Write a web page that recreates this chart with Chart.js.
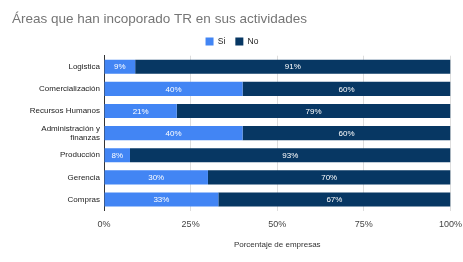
<!DOCTYPE html>
<html>
<head>
<meta charset="utf-8">
<script src="https://cdn.jsdelivr.net/npm/chart.js@4"></script>
<style>
  html, body { margin: 0; padding: 0; background: #fff; }
  #wrap { width: 463px; height: 262px; }
</style>
</head>
<body>
<div id="wrap"><canvas id="chart" width="463" height="262"></canvas></div>
<script>
// ─── Data ────────────────────────────────────────────────────────
const categories = [
  "Logistica",
  "Comercialización",
  "Recursos Humanos",
  ["Administración y", "finanzas"],
  "Producción",
  "Gerencia",
  "Compras",
];
const siValues = [9, 40, 21, 40, 7.5, 30, 33];
const noValues = [91, 60, 79, 60, 92.5, 70, 67];
const seriesNames = ["Si", "No"];
const seriesColors = ["#4285F4", "#073763"];

const FONT = "'Liberation Sans', Arial, sans-serif";

// ─── Labels inside segments ──────────────────────────────────────
const segmentLabels = {
  id: "segmentLabels",
  afterDatasetsDraw(chart) {
    const ctx = chart.ctx;
    ctx.save();
    ctx.fillStyle = "#ffffff";
    ctx.font = "8px " + FONT;
    ctx.textAlign = "center";
    ctx.textBaseline = "middle";
    chart.data.datasets.forEach((ds, i) => {
      chart.getDatasetMeta(i).data.forEach((bar, j) => {
        const cx = (bar.x + bar.base) / 2;
        ctx.fillText(Math.round(ds.data[j]) + "%", cx, bar.y + 0.5);
      });
    });
    ctx.restore();
  },
};

// ─── Chart ───────────────────────────────────────────────────────
new Chart(document.getElementById("chart"), {
  type: "bar",
  data: {
    labels: categories,
    datasets: [
      { label: seriesNames[0], data: siValues, backgroundColor: seriesColors[0] },
      { label: seriesNames[1], data: noValues, backgroundColor: seriesColors[1] },
    ],
  },
  options: {
    indexAxis: "y",
    responsive: false,
    animation: false,
    categoryPercentage: 0.8,
    barPercentage: 0.8,
    layout: { padding: { left: 12, right: 11, top: 0, bottom: 12 } },
    plugins: {
      tooltip: { enabled: false },
      title: {
        display: true,
        text: "Áreas que han incoporado TR en sus actividades",
        align: "start",
        color: "#757575",
        font: { family: FONT, size: 13.5, weight: "normal" },
        padding: { top: 11, bottom: 0 },
      },
      legend: {
        position: "top",
        labels: {
          boxWidth: 8,
          boxHeight: 8,
          padding: 10,
          color: "#222",
          font: { family: FONT, size: 8.5 },
        },
      },
    },
    scales: {
      x: {
        stacked: true,
        min: 0,
        max: 100,
        ticks: {
          stepSize: 25,
          color: "#444",
          padding: 1,
          font: { family: FONT, size: 9 },
          callback: (v) => v + "%",
        },
        grid: {
          color: (c) => (c.tick && c.tick.value === 0 ? "rgba(0,0,0,0)" : "#dddddd"),
          drawTicks: true,
          tickLength: 8,
          tickColor: "rgba(0,0,0,0)",
        },
        border: { display: false },
        title: {
          display: true,
          text: "Porcentaje de empresas",
          color: "#333",
          font: { family: FONT, size: 8 },
          padding: { top: 9, bottom: 0 },
        },
      },
      y: {
        stacked: true,
        afterFit: (scale) => { scale.width = 92; },
        ticks: {
          autoSkip: false,
          color: "#222",
          font: { family: FONT, size: 8 },
          padding: 4,
        },
        grid: { display: false, drawTicks: false },
        border: { display: true, color: "#333", width: 1 },
      },
    },
  },
  plugins: [segmentLabels],
});
</script>
</body>
</html>
